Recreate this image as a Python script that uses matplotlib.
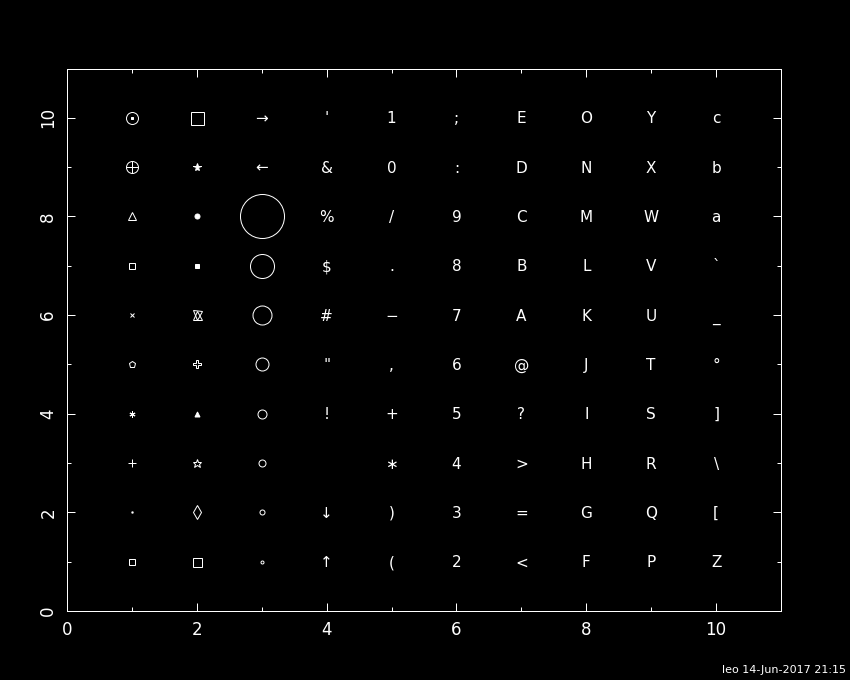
import matplotlib
matplotlib.use('Agg')
import matplotlib.pyplot as plt
from matplotlib.ticker import MultipleLocator

# ---- data: PGPLOT symbol table, symbols 0..99 laid out in 10 columns x 10 rows ----
columns = [1, 2, 3, 4, 5, 6, 7, 8, 9, 10]
rows = [1, 2, 3, 4, 5, 6, 7, 8, 9, 10]

marker_col1 = ['square', 'dot', 'plus', 'asterisk', 'circle5', 'cross',
               'square', 'triangle', 'circleplus', 'circledot']
marker_col2 = ['cushion', 'thindiamond', 'openstar', 'filltri', 'openplus',
               'davidstar', 'fillsquare', 'fillcircle', 'fillstar', 'bigsquare']
circle_diam_col3 = [3, 5, 7, 9, 13, 19, 24, 44]      # pixel diameters, rows 1..8
arrows_col3 = ['←', '→']                              # rows 9, 10
text_col4 = ['↑', '↓', ' ', '!', '"', '#', '$', '%', '&', "'"]
text_col5 = ['(', ')', '∗', '+', ',', '−', '.', '/', '0', '1']
text_col6 = ['2', '3', '4', '5', '6', '7', '8', '9', ':', ';']
text_col7 = ['<', '=', '>', '?', '@', 'A', 'B', 'C', 'D', 'E']
text_col8 = ['F', 'G', 'H', 'I', 'J', 'K', 'L', 'M', 'N', 'O']
text_col9 = ['P', 'Q', 'R', 'S', 'T', 'U', 'V', 'W', 'X', 'Y']
text_col10 = ['Z', '[', '\\', ']', '°', '_', '`', 'a', 'b', 'c']

xticks = [0, 2, 4, 6, 8, 10]
yticks = [0, 2, 4, 6, 8, 10]
footer = 'leo 14-Jun-2017 21:15'

# ---- styles ----
PX = 72.0 / 100.0   # points per pixel
LW = 1.0 * PX
W = 'white'

marker_styles = {
    'square':      [dict(marker='s', ms=6, fill=False)],
    'dot':         [dict(marker='s', ms=1.2, fill=True)],
    'plus':        [dict(marker='+', ms=8, fill=False)],
    'asterisk':    [dict(marker=(6, 2, 0), ms=6, fill=False)],
    'circle5':     [dict(marker='p', ms=7, fill=False)],
    'cross':       [dict(marker='x', ms=5, fill=False)],
    'triangle':    [dict(marker='^', ms=8, fill=False)],
    'circleplus':  [dict(marker='o', ms=12, fill=False), dict(marker='+', ms=12, fill=False)],
    'circledot':   [dict(marker='o', ms=12, fill=False), dict(marker='s', ms=2, fill=True)],
    'cushion':     [dict(marker='s', ms=9, fill=False)],
    'thindiamond': [dict(marker='d', ms=10, fill=False)],
    'openstar':    [dict(marker='*', ms=9, fill=False)],
    'filltri':     [dict(marker='^', ms=5, fill=True)],
    'openplus':    [dict(marker='P', ms=8, fill=False)],
    'davidstar':   [dict(marker='^', ms=9, fill=False), dict(marker='v', ms=9, fill=False)],
    'fillsquare':  [dict(marker='s', ms=5, fill=True)],
    'fillcircle':  [dict(marker='o', ms=5, fill=True)],
    'fillstar':    [dict(marker='*', ms=8, fill=True)],
    'bigsquare':   [dict(marker='s', ms=13, fill=False)],
}

plt.rcParams['font.family'] = ['DejaVu Sans']

fig = plt.figure(figsize=(8.5, 6.8), dpi=100, facecolor='black')
ax = fig.add_axes([67 / 850, 1 - 611 / 680, (781 - 67) / 850, (611 - 68.5) / 680])
ax.set_facecolor('black')
ax.set_xlim(0, 11)
ax.set_ylim(0, 11)


def draw_marker(x, y, name):
    for st in marker_styles[name]:
        ax.plot([x], [y], linestyle='none', marker=st['marker'],
                markersize=st['ms'] * PX,
                markerfacecolor=W if st['fill'] else 'none',
                markeredgecolor=W, markeredgewidth=LW)


def draw_char(x, y, s, size=11):
    ax.annotate(s, (x, y), xytext=(0, -4.0), textcoords='offset points',
                ha='center', va='baseline', color=W, fontsize=size)


# column 1 and 2: graph markers
for r, name in zip(rows, marker_col1):
    draw_marker(columns[0], r, name)
for r, name in zip(rows, marker_col2):
    draw_marker(columns[1], r, name)

# column 3: circles of growing size then arrows
for r, d in zip(rows[:8], circle_diam_col3):
    ax.plot([columns[2]], [r], linestyle='none', marker='o', markersize=d * PX,
            markerfacecolor='none', markeredgecolor=W, markeredgewidth=LW)
for r, s in zip(rows[8:], arrows_col3):
    draw_char(columns[2], r, s)

# columns 4..10: characters
for c, col in zip(columns[3:], [text_col4, text_col5, text_col6, text_col7,
                                text_col8, text_col9, text_col10]):
    for r, s in zip(rows, col):
        if s.strip():
            draw_char(c, r, s)

# axes frame and ticks
for sp in ax.spines.values():
    sp.set_color(W)
    sp.set_linewidth(LW)
ax.set_xticks(xticks)
ax.set_yticks(yticks)
ax.xaxis.set_minor_locator(MultipleLocator(1))
ax.yaxis.set_minor_locator(MultipleLocator(1))
ax.tick_params(which='both', direction='in', colors=W, width=LW,
               top=True, right=True, labelcolor=W)
ax.tick_params(which='major', length=8 * PX, labelsize=12, pad=7)
ax.tick_params(which='minor', length=4 * PX)
ax.set_xticklabels([str(t) for t in xticks])
ax.set_yticklabels([str(t) for t in yticks], rotation=90, va='center')

fig.text(846 / 850, 1 - 673 / 680, footer, ha='right', va='baseline',
         color=W, fontsize=8)

fig.savefig('out.png', dpi=100, facecolor='black')
